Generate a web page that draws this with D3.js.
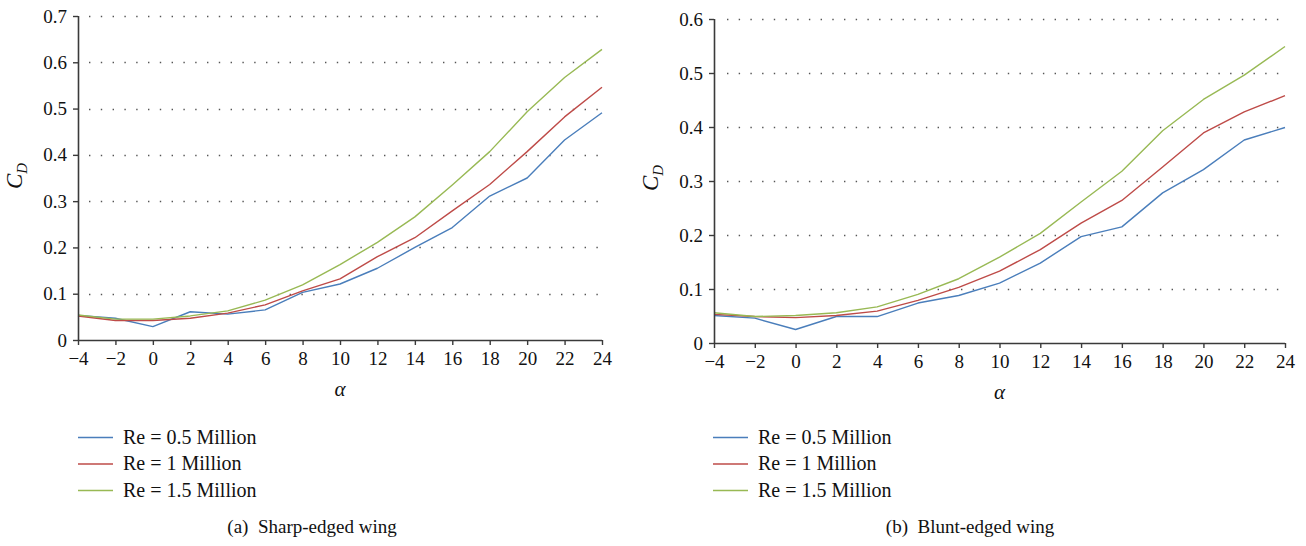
<!DOCTYPE html>
<html><head><meta charset="utf-8">
<script src="https://cdn.jsdelivr.net/npm/d3@7"></script>
<style>
html,body{margin:0;padding:0;background:#fff;}
svg{display:block;}
</style></head>
<body>
<svg id="chart" width="1306" height="546"></svg>
<script>
const alpha = [-4,-2,0,2,4,6,8,10,12,14,16,18,20,22,24];
const xTicks = [-4,-2,0,2,4,6,8,10,12,14,16,18,20,22,24];
const seriesNames = ["Re = 0.5 Million","Re = 1 Million","Re = 1.5 Million"];
const colors = ["#4a7ebb","#be4b48","#98b954"];

// (a) Sharp-edged wing
const sharpRe05 = [0.053,0.047,0.029,0.061,0.056,0.065,0.103,0.121,0.155,0.200,0.243,0.311,0.350,0.432,0.491];
const sharpRe10 = [0.052,0.042,0.042,0.047,0.058,0.076,0.106,0.132,0.180,0.221,0.279,0.336,0.407,0.482,0.546];
const sharpRe15 = [0.054,0.045,0.045,0.052,0.063,0.086,0.119,0.163,0.211,0.266,0.335,0.407,0.493,0.567,0.628];
const sharpYTicks = [0,0.1,0.2,0.3,0.4,0.5,0.6,0.7];

// (b) Blunt-edged wing
const bluntRe05 = [0.051,0.046,0.025,0.049,0.049,0.074,0.088,0.111,0.148,0.197,0.215,0.278,0.321,0.376,0.399];
const bluntRe10 = [0.053,0.049,0.047,0.051,0.059,0.079,0.103,0.133,0.173,0.222,0.264,0.326,0.389,0.428,0.458];
const bluntRe15 = [0.056,0.049,0.051,0.056,0.067,0.090,0.119,0.159,0.203,0.261,0.318,0.393,0.451,0.496,0.549];
const bluntYTicks = [0,0.1,0.2,0.3,0.4,0.5,0.6];

const FONT = '"Liberation Serif"';
const svg = d3.select("#chart");
const fmt = v => v === 0 ? "0" : d3.format(".1f")(v);
const xfmt = v => v < 0 ? "\u2212" + Math.abs(v) : String(v);

function panel(cfg){
  const g = svg.append("g");
  const x = d3.scaleLinear().domain([-4,24]).range([cfg.x0, cfg.x1]);
  const y = d3.scaleLinear().domain([0, cfg.ymax]).range([cfg.y0, cfg.y1]);

  // dotted gridlines
  g.append("g").selectAll("line").data(cfg.yTicks.filter(d=>d>0)).join("line")
    .attr("x1", cfg.x0 + cfg.gridStart).attr("x2", cfg.x1)
    .attr("y1", d=>Math.round(y(d))+0.5).attr("y2", d=>Math.round(y(d))+0.5)
    .attr("stroke","#555").attr("stroke-width",1.6)
    .attr("stroke-dasharray","1.4 " + (cfg.gridGap-1.4));

  // lines
  const line = d3.line().x((d,i)=>x(alpha[i])).y(d=>y(d));
  cfg.series.forEach((s,k)=>{
    g.append("path").datum(s).attr("d", line)
      .attr("fill","none").attr("stroke", colors[k]).attr("stroke-width",1.4)
      .attr("stroke-linejoin","round");
  });

  // axes
  const yAxis = d3.axisLeft(y).tickValues(cfg.yTicks).tickFormat(fmt).tickSize(5).tickPadding(6);
  const ya = g.append("g").attr("transform",`translate(${cfg.x0},0)`).call(yAxis);
  const xAxis = d3.axisBottom(x).tickValues(xTicks).tickFormat(xfmt).tickSize(5).tickPadding(7);
  const xa = g.append("g").attr("transform",`translate(0,${cfg.y0})`).call(xAxis);
  [ya,xa].forEach(a=>{
    a.attr("font-family",null).attr("font-size",null);
    a.select(".domain").attr("stroke","#3a3a3a").attr("stroke-width",1.6);
    a.selectAll(".tick line").attr("stroke","#3a3a3a").attr("stroke-width",1.4);
    a.selectAll(".tick text").style("font-family",FONT).style("font-size","19px").attr("fill","#111");
  });
  ya.select(".domain").attr("d", `M0.5,${cfg.y0}V${cfg.y1}`);
  xa.select(".domain").attr("d", `M${cfg.x0},0.5H${cfg.x1}`);

  // axis titles
  g.append("text").attr("x", (cfg.x0+cfg.x1)/2).attr("y", cfg.y0+56)
    .attr("text-anchor","middle").style("font-family",FONT).style("font-size","21px")
    .style("font-style","italic").attr("fill","#111").text("\u03b1");
  const yl = g.append("text").attr("transform",`translate(${cfg.ylx},${cfg.yly}) rotate(-90)`)
    .attr("text-anchor","middle").style("font-family",FONT).style("font-size","23px")
    .style("font-style","italic").attr("fill","#111");
  yl.append("tspan").text("C");
  yl.append("tspan").attr("dy",5).style("font-size","15px").text("D");

  // legend
  const lg = g.append("g").attr("transform",`translate(${cfg.legX},${cfg.legY})`);
  seriesNames.forEach((n,k)=>{
    const row = lg.append("g").attr("transform",`translate(0,${k*26.5})`);
    row.append("line").attr("x1",0).attr("x2",35).attr("y1",0.5).attr("y2",0.5)
      .attr("stroke",colors[k]).attr("stroke-width",1.5);
    row.append("text").attr("x",45).attr("y",6.5).style("font-family",FONT)
      .style("font-size","20px").attr("fill","#111").text(n);
  });

  // caption
  g.append("text").attr("x", cfg.capX).attr("y", 533).attr("text-anchor","middle")
    .style("font-family",FONT).style("font-size","19px").attr("fill","#111")
    .attr("xml:space","preserve").text(cfg.caption);
}

panel({x0:78, x1:602, y0:340, y1:16, ymax:0.7, yTicks:sharpYTicks,
  series:[sharpRe05,sharpRe10,sharpRe15], gridStart:11, gridGap:11.8,
  ylx:22, yly:176, legX:78, legY:437, capX:312, caption:"(a)  Sharp-edged wing"});
panel({x0:714, x1:1285, y0:343, y1:19, ymax:0.6, yTicks:bluntYTicks,
  series:[bluntRe05,bluntRe10,bluntRe15], gridStart:13, gridGap:11.7,
  ylx:658, yly:178, legX:713, legY:437, capX:970, caption:"(b)  Blunt-edged wing"});
</script>
</body></html>
